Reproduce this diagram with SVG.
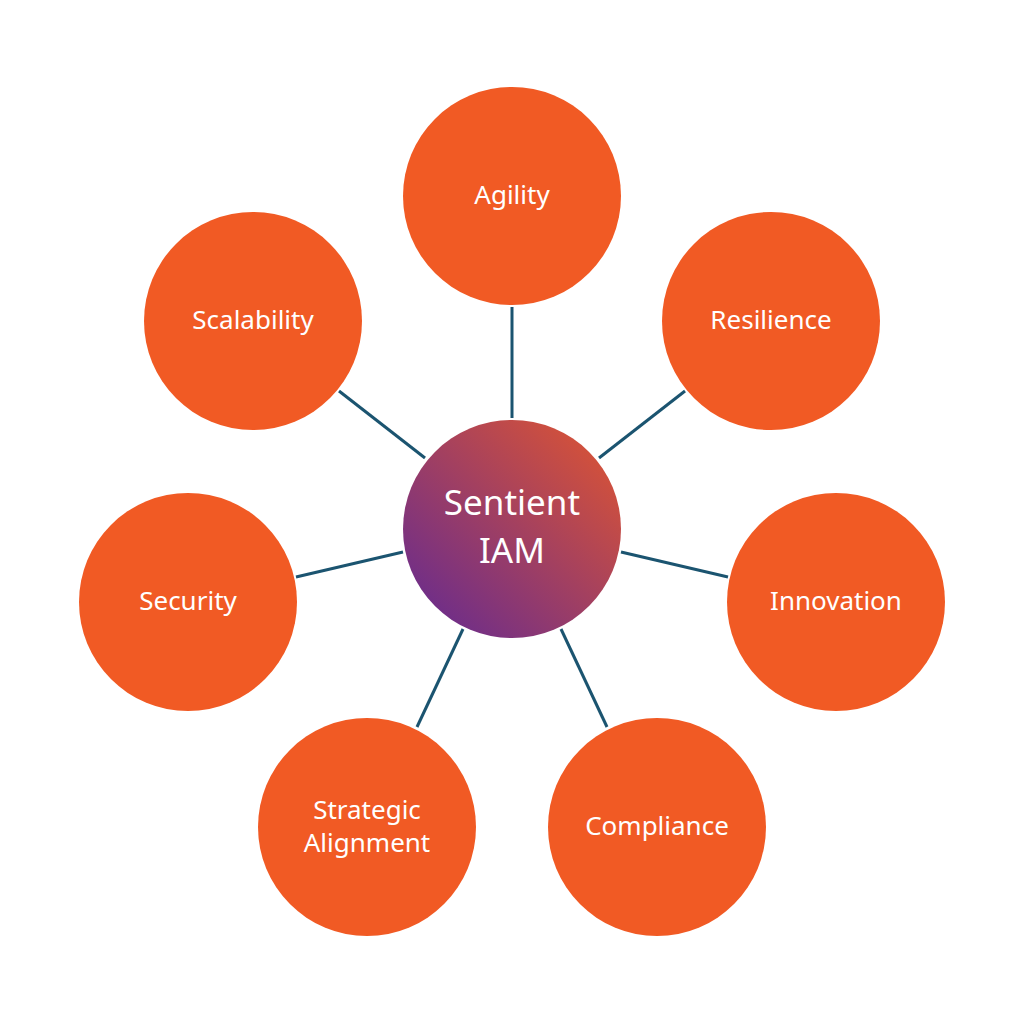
<svg xmlns="http://www.w3.org/2000/svg" width="1024" height="1024" viewBox="0 0 1024 1024">
<style>
.node{fill:#f15a24}
.lbl{font-family:"Noto Sans","Open Sans",sans-serif;font-size:26px;fill:#fff;text-anchor:middle}
.ctr{font-family:"Noto Sans","Open Sans",sans-serif;font-size:35px;fill:#fff;text-anchor:middle}
.conn line{stroke:#1b5470;stroke-width:3}
</style>
<defs>
<linearGradient id="g" x1="1" y1="0" x2="0" y2="1">
<stop offset="0" stop-color="#e3572e"/>
<stop offset="1" stop-color="#5f2895"/>
</linearGradient>
</defs>
<rect width="1024" height="1024" fill="#fff"/>
<g id="connectors" class="conn">
<line x1="512" y1="307" x2="512" y2="418"/>
<line x1="685" y1="391" x2="599" y2="458"/>
<line x1="339" y1="391" x2="425" y2="458"/>
<line x1="728" y1="577" x2="621" y2="552"/>
<line x1="296" y1="577" x2="403" y2="552"/>
<line x1="607" y1="727" x2="561" y2="629"/>
<line x1="417" y1="727" x2="463" y2="629"/>
</g>
<g id="center"><circle cx="512" cy="529" r="109" fill="url(#g)"/>
<text class="ctr" x="512" y="515">Sentient</text><text class="ctr" x="512" y="563">IAM</text></g>
<g id="agility"><circle class="node" cx="512" cy="196" r="109"/><text class="lbl" x="512" y="204">Agility</text></g>
<g id="resilience"><circle class="node" cx="771" cy="321" r="109"/><text class="lbl" x="771" y="329">Resilience</text></g>
<g id="innovation"><circle class="node" cx="836" cy="602" r="109"/><text class="lbl" x="836" y="610">Innovation</text></g>
<g id="compliance"><circle class="node" cx="657" cy="827" r="109"/><text class="lbl" x="657" y="835">Compliance</text></g>
<g id="strategic"><circle class="node" cx="367" cy="827" r="109"/><text class="lbl" x="367" y="819">Strategic</text><text class="lbl" x="367" y="852">Alignment</text></g>
<g id="security"><circle class="node" cx="188" cy="602" r="109"/><text class="lbl" x="188" y="610">Security</text></g>
<g id="scalability"><circle class="node" cx="253" cy="321" r="109"/><text class="lbl" x="253" y="329">Scalability</text></g>
</svg>
